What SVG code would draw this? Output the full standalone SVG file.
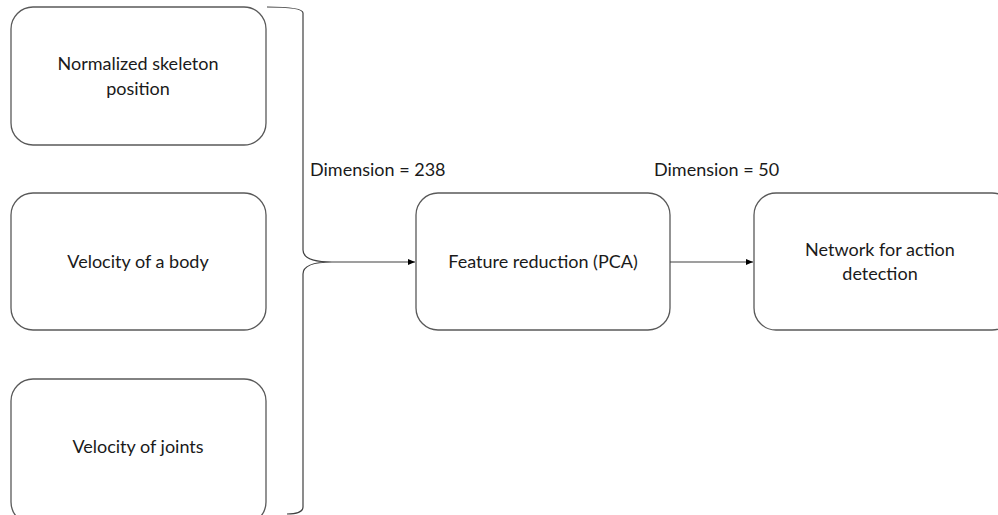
<svg xmlns="http://www.w3.org/2000/svg" width="998" height="515" viewBox="0 0 998 515">
<defs>
<style>
.box{fill:#fff;stroke:#595959;stroke-width:1.3}
.t{font-family:Lato,"Open Sans","Liberation Sans",sans-serif;font-size:18px;fill:#1a1a1a;text-anchor:middle}
.l{font-family:Lato,"Open Sans","Liberation Sans",sans-serif;font-size:18px;fill:#1a1a1a}
.c{fill:none;stroke:#404040;stroke-width:1.2}
</style>
<marker id="ah" markerWidth="8" markerHeight="8" refX="7" refY="4" orient="auto" markerUnits="userSpaceOnUse">
<path d="M0,1 L7,4 L0,7 z" fill="#000"/>
</marker>
</defs>
<rect width="998" height="515" fill="#fff"/>
<g id="n1"><rect class="box" x="11" y="7" width="255" height="138" rx="22"/><text class="t" x="138" y="70">Normalized skeleton</text><text class="t" x="138" y="95">position</text></g>
<g id="n2"><rect class="box" x="11" y="193" width="255" height="137" rx="22"/><text class="t" x="138" y="268">Velocity of a body</text></g>
<g id="n3"><rect class="box" x="11" y="379" width="255" height="145" rx="22"/><text class="t" x="138" y="453">Velocity of joints</text></g>
<g id="n4"><rect class="box" x="416" y="193" width="254" height="137" rx="22"/><text class="t" x="543" y="268">Feature reduction (PCA)</text></g>
<g id="n5"><rect class="box" x="754" y="193" width="260" height="137" rx="22"/><text class="t" x="880" y="256">Network for action</text><text class="t" x="880" y="280">detection</text></g>
<g id="connectors">
<path class="c" d="M267,7 Q303,7 303,13 L303,250 Q303,262 332,262 Q303,262 303,274 L303,507 Q303,514 287,514"/>
<line class="c" x1="332" y1="262" x2="415" y2="262" marker-end="url(#ah)"/>
<line class="c" x1="670" y1="262" x2="753" y2="262" marker-end="url(#ah)"/>
</g>
<text class="l" x="310" y="176">Dimension = 238</text>
<text class="l" x="654" y="176">Dimension = 50</text>
</svg>
